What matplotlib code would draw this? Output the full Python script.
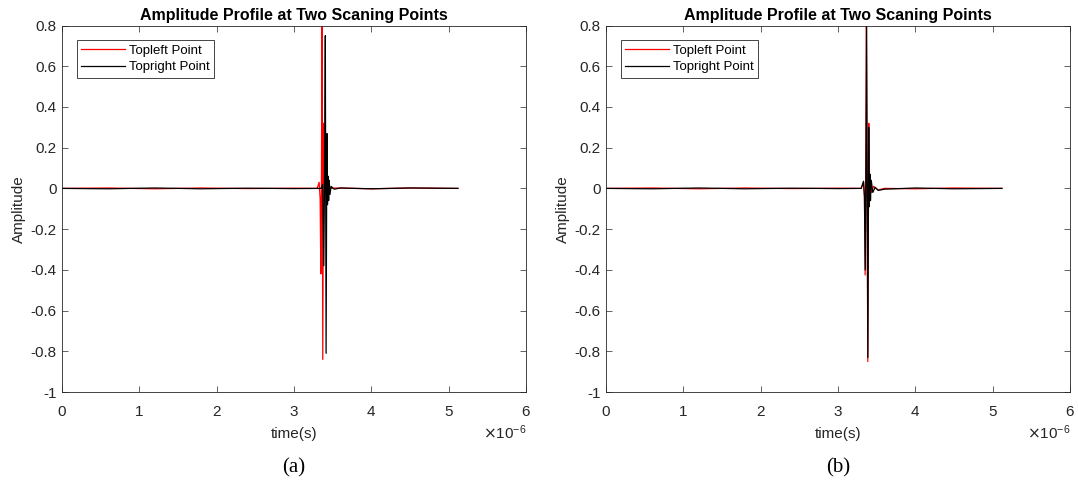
import matplotlib
matplotlib.use("Agg")
import matplotlib.pyplot as plt
import numpy as np

plt.rcParams['font.family'] = ['Liberation Sans', 'DejaVu Sans']

# ---- data (time in microseconds, amplitude) ----
# Panel (a)
a_red_t = [0.0, 0.6, 1.2, 1.8, 2.4, 3.0, 3.30, 3.325, 3.338, 3.347, 3.355, 3.362, 3.372, 3.382, 3.390, 3.400, 3.415, 3.43, 3.46, 3.55, 4.0, 4.5, 5.12]
a_red_y = [0.0, 0.002, -0.002, 0.002, -0.001, 0.001, 0.0, 0.03, -0.05, -0.42, 0.06, 0.82, -0.84, 0.32, -0.06, 0.03, -0.02, 0.01, 0.0, 0.002, -0.002, 0.002, 0.0]
a_blk_t = [0.0, 0.6, 1.2, 1.8, 2.4, 3.0, 3.35, 3.37, 3.385, 3.395, 3.405, 3.415, 3.425, 3.433, 3.440, 3.448, 3.455, 3.465, 3.48, 3.52, 3.6, 4.0, 4.5, 5.12]
a_blk_y = [0.0, -0.002, 0.002, -0.002, 0.001, -0.001, 0.0, 0.02, -0.38, 0.05, 0.75, -0.81, 0.27, -0.08, 0.06, -0.06, 0.04, -0.03, 0.01, -0.004, 0.002, -0.002, 0.002, 0.0]

# Panel (b)
b_red_t = [0.0, 0.6, 1.2, 1.8, 2.4, 3.0, 3.30, 3.330, 3.342, 3.351, 3.360, 3.368, 3.385, 3.398, 3.405, 3.415, 3.43, 3.46, 3.52, 3.6, 4.0, 4.5, 5.12]
b_red_y = [0.0, 0.002, -0.002, 0.002, -0.001, 0.001, 0.0, 0.03, -0.04, -0.425, 0.05, 0.82, -0.85, 0.32, -0.06, 0.04, -0.02, 0.01, -0.008, 0.0, -0.002, 0.002, 0.0]
b_blk_t = [0.0, 0.6, 1.2, 1.8, 2.4, 3.0, 3.30, 3.330, 3.342, 3.352, 3.360, 3.369, 3.386, 3.397, 3.405, 3.413, 3.42, 3.43, 3.45, 3.48, 3.52, 3.6, 4.0, 4.5, 5.12]
b_blk_y = [0.0, -0.002, 0.002, -0.002, 0.001, -0.001, 0.0, 0.035, -0.04, -0.40, 0.05, 0.80, -0.83, 0.30, -0.09, 0.07, -0.06, 0.04, -0.02, 0.005, -0.01, -0.004, 0.002, -0.002, 0.0]

panels = [
    (a_red_t, a_red_y, a_blk_t, a_blk_y, '(a)'),
    (b_red_t, b_red_y, b_blk_t, b_blk_y, '(b)'),
]

xticks = [0, 1, 2, 3, 4, 5, 6]
yticks = [-1, -0.8, -0.6, -0.4, -0.2, 0, 0.2, 0.4, 0.6, 0.8]
ytick_labels = ['-1', '-0.8', '-0.6', '-0.4', '-0.2', '0', '0.2', '0.4', '0.6', '0.8']

W, H = 1078, 497
fig = plt.figure(figsize=(W / 100, H / 100), dpi=100)
fig.patch.set_facecolor('white')

gray = '#262626'
axes_px = [(62, 526), (606, 1070)]
top_px, bot_px = 25.5, 392

for (rt, ry, bt, by, cap), (xl, xr) in zip(panels, axes_px):
    ax = fig.add_axes([xl / W, (H - bot_px) / H, (xr - xl) / W, (bot_px - top_px) / H])
    ax.plot(np.array(rt) * 1e-6, ry, color='#ff0000', lw=0.9, label='Topleft Point')
    ax.plot(np.array(bt) * 1e-6, by, color='#000000', lw=0.9, label='Topright Point')
    ax.set_xlim(0, 6e-6)
    ax.set_ylim(-1, 0.8)
    ax.set_xticks([v * 1e-6 for v in xticks])
    ax.set_xticklabels([str(v) for v in xticks])
    ax.set_yticks(yticks)
    ax.set_yticklabels(ytick_labels)
    ax.tick_params(direction='in', length=4, width=0.5, colors=gray, labelsize=11,
                   top=True, right=True, labelcolor=gray)
    ax.tick_params(axis='x', pad=9)
    ax.tick_params(axis='y', pad=4)
    for s in ax.spines.values():
        s.set_linewidth(0.6)
        s.set_color(gray)
    ax.set_title('Amplitude Profile at Two Scaning Points', fontsize=11.5,
                 fontweight='bold', color='black', pad=4)
    ax.set_xlabel('time(s)', fontsize=11, color=gray, labelpad=6)
    ax.set_ylabel('Amplitude', fontsize=11, color=gray, labelpad=3)
    ax.text(1.0, -0.11, r'$\times\mathregular{10^{-6}}$', transform=ax.transAxes,
            ha='right', va='center', fontsize=11, color=gray)
    leg = ax.legend(loc='upper left', bbox_to_anchor=(0.032, 0.96), fontsize=9.5,
                    handlelength=3.3, handletextpad=0.3, borderpad=0.35,
                    labelspacing=0.3, fancybox=False, framealpha=1,
                    edgecolor=gray, borderaxespad=0)
    leg.get_frame().set_linewidth(0.6)
    for t in leg.get_texts():
        t.set_color('black')
    xc = (xl + xr) / 2 / W
    fig.text(xc, 1 - 468 / H, cap, ha='center', va='center', fontsize=15,
             family=['Liberation Serif', 'DejaVu Serif'])

fig.savefig('out.png', dpi=100)
